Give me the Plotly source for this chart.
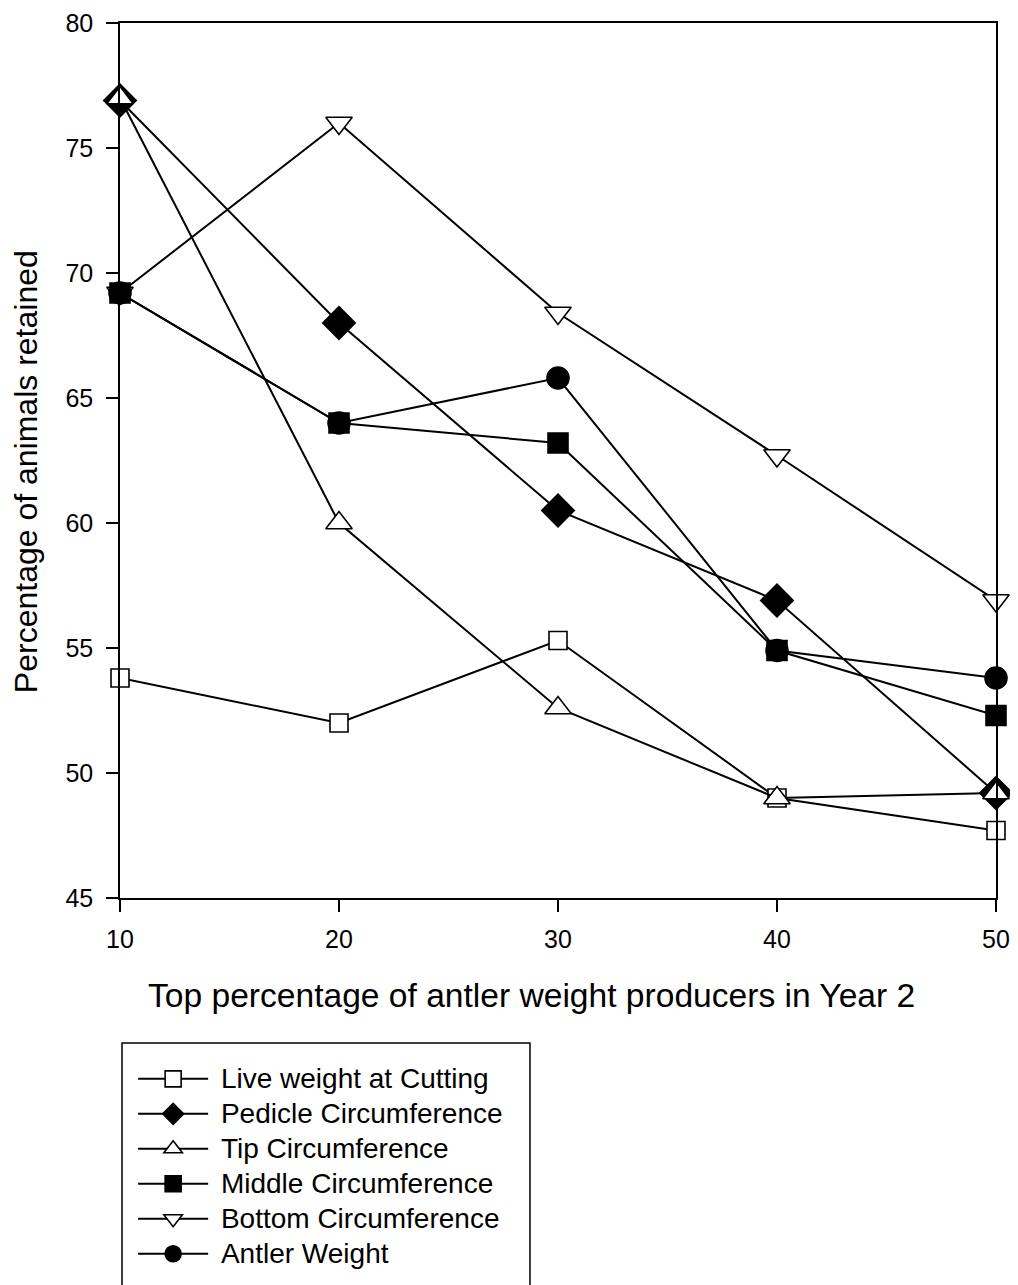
import plotly.graph_objects as go

x_vals = [10, 20, 30, 40, 50]
live_weight = [53.8, 52.0, 55.3, 49.0, 47.7]
pedicle = [76.9, 68.0, 60.5, 56.9, 49.2]
tip = [77.0, 60.0, 52.6, 49.0, 49.2]
middle = [69.2, 64.0, 63.2, 54.9, 52.3]
bottom = [69.2, 76.0, 68.4, 62.7, 56.9]
antler = [69.2, 64.0, 65.8, 54.9, 53.8]
y_ticks = [45, 50, 55, 60, 65, 70, 75, 80]

series = [
    ("Live weight at Cutting", live_weight, "square", 18, "white"),
    ("Pedicle Circumference", pedicle, "diamond", 25, "black"),
    ("Tip Circumference", tip, "triangle-up", 23, "white"),
    ("Middle Circumference", middle, "square", 20, "black"),
    ("Bottom Circumference", bottom, "triangle-down", 23, "white"),
    ("Antler Weight", antler, "circle", 22, "black"),
]

fig = go.Figure()
for name, vals, sym, sz, fill in series:
    fig.add_trace(go.Scatter(
        x=x_vals, y=vals,
        name="<span style='font-size:28px'>&nbsp;" + name + "</span>",
        mode="lines+markers",
        line=dict(color="black", width=2),
        marker=dict(symbol=sym, size=sz, color=fill,
                    line=dict(color="black", width=1.6)),
        cliponaxis=False,
    ))

font_family = "Liberation Sans, Arial, sans-serif"

fig.update_layout(
    width=1010, height=1277,
    margin=dict(l=112, r=22, t=15, b=387, autoexpand=False),
    plot_bgcolor="white", paper_bgcolor="white",
    font=dict(family=font_family, color="black"),
    showlegend=True,
    legend=dict(
        x=0.015, y=-0.181, xanchor="left", yanchor="top",
        font=dict(size=24.6, family=font_family, color="black"),
        itemwidth=70, bgcolor="rgba(0,0,0,0)",
        tracegroupgap=0,
    ),
    xaxis=dict(
        range=[10, 50], tickvals=x_vals, ticks="outside", ticklen=12, tickwidth=1.5,
        tickcolor="black", showline=True, linecolor="black", linewidth=1.5, mirror=True,
        showgrid=False, zeroline=False, tickfont=dict(size=25), ticklabelstandoff=6,
        automargin=False,
    ),
    yaxis=dict(
        range=[45, 80], tickvals=y_ticks, ticks="outside",
        ticklen=12, tickwidth=1.5, tickcolor="black", showline=True, linecolor="black",
        linewidth=1.5, mirror=True, showgrid=False, zeroline=False,
        tickfont=dict(size=25), ticklabelstandoff=8, automargin=False,
    ),
    annotations=[
        dict(text="Percentage of animals retained", xref="paper", yref="paper",
             x=-0.107, y=0.487, xanchor="center", yanchor="middle", textangle=-90,
             showarrow=False, font=dict(size=32)),
        dict(text="Top percentage of antler weight producers in Year 2", xref="paper",
             yref="paper", x=0.47, y=-0.111, xanchor="center", yanchor="middle",
             showarrow=False, font=dict(size=33.6)),
    ],
)

# legend frame (extends past bottom of page as in reference)
fig.add_shape(type="rect", xref="paper", yref="paper",
              x0=0.0023, x1=0.468, y0=-0.5, y1=-0.1657,
              line=dict(color="black", width=1.5), fillcolor="rgba(0,0,0,0)")

fig.write_html("out.html")
